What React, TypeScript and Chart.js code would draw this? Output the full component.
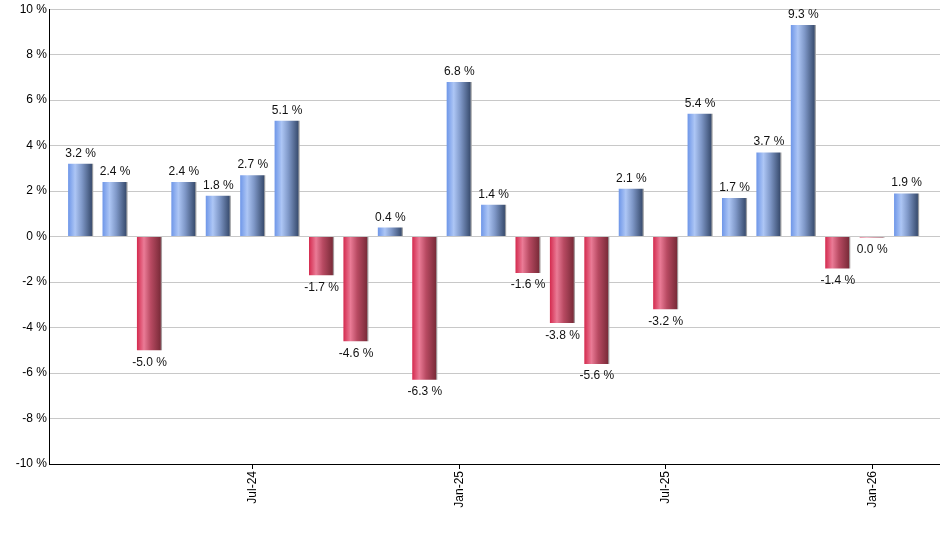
import React, { useEffect, useRef } from "react";
import { Chart, registerables } from "chart.js";

Chart.register(...registerables);

const months: string[] = [
  "Feb-24", "Mar-24", "Apr-24", "May-24", "Jun-24", "Jul-24", "Aug-24", "Sep-24", "Oct-24",
  "Nov-24", "Dec-24", "Jan-25", "Feb-25", "Mar-25", "Apr-25", "May-25", "Jun-25", "Jul-25",
  "Aug-25", "Sep-25", "Oct-25", "Nov-25", "Dec-25", "Jan-26", "Feb-26",
];
const returns: number[] = [
  3.2, 2.4, -5.0, 2.4, 1.8, 2.7, 5.1, -1.7, -4.6, 0.4, -6.3, 6.8, 1.4, -1.6, -3.8, -5.6,
  2.1, -3.2, 5.4, 1.7, 3.7, 9.3, -1.4, -0.04, 1.9,
];
const tickLabels: string[] = ["Jul-24", "Jan-25", "Jul-25", "Jan-26"];
const yTicks: number[] = [-10, -8, -6, -4, -2, 0, 2, 4, 6, 8, 10];

const FONT = "Arial, 'Liberation Sans', sans-serif";
const BAR_RATIO = 0.73;

function fmt(v: number): string {
  const r = Math.round(v * 10) / 10;
  return (r === 0 ? 0 : r).toFixed(1) + " %";
}

const valueLabels = {
  id: "valueLabels",
  afterDatasetsDraw(chart: any) {
    const ctx = chart.ctx;
    const meta = chart.getDatasetMeta(0);
    ctx.save();
    ctx.font = `12px ${FONT}`;
    ctx.fillStyle = "#111";
    ctx.textAlign = "center";
    ctx.textBaseline = "alphabetic";
    meta.data.forEach((el: any, i: number) => {
      const v = returns[i];
      const y0 = chart.scales.y.getPixelForValue(0);
      if (v > 0) {
        ctx.fillText(fmt(v), el.x, Math.min(el.y, y0) - 7);
      } else {
        ctx.fillText(fmt(v), el.x, Math.max(el.y, y0) + 15.5);
      }
    });
    ctx.restore();
  },
};

function barColor(c: any) {
  const chart = c.chart;
  const v = returns[c.dataIndex];
  if (c.dataIndex === undefined || !chart.chartArea) return v < 0 ? "#d02848" : "#6d95e6";
  const xs = chart.scales.x;
  const cx = xs.getPixelForValue(c.dataIndex);
  const w = Math.abs(xs.getPixelForValue(1) - xs.getPixelForValue(0)) * BAR_RATIO;
  const g = chart.ctx.createLinearGradient(cx - w / 2, 0, cx + w / 2, 0);
  if (v > 0) {
    g.addColorStop(0, "#6e96e8");
    g.addColorStop(0.28, "#adc6f5");
    g.addColorStop(0.55, "#7f98c8");
    g.addColorStop(0.93, "#3b4f72");
    g.addColorStop(0.96, "#8a8f98");
    g.addColorStop(1, "#b0b0b0");
  } else {
    g.addColorStop(0, "#d42a4e");
    g.addColorStop(0.28, "#ea7b96");
    g.addColorStop(0.55, "#b84a62");
    g.addColorStop(0.93, "#7c2c3a");
    g.addColorStop(0.96, "#9a8a8e");
    g.addColorStop(1, "#b8b0b0");
  }
  return g;
}

export default function App() {
  const ref = useRef<HTMLCanvasElement | null>(null);

  useEffect(() => {
    document.body.style.margin = "0";
    if (!ref.current) return;
    const chart = new Chart(ref.current, {
      type: "bar",
      data: {
        datasets: [
          {
            data: returns.map((v, i) => ({ x: i, y: v })),
            backgroundColor: barColor as any,
            borderWidth: 0,
            categoryPercentage: 1,
            barPercentage: BAR_RATIO,
          },
        ],
      },
      plugins: [valueLabels],
      options: {
        animation: false,
        responsive: true,
        maintainAspectRatio: false,
        layout: { padding: { top: 9, right: 0, bottom: 0, left: 0 } },
        plugins: { legend: { display: false }, tooltip: { enabled: false } },
        scales: {
          x: {
            type: "linear",
            offset: false,
            min: -0.92,
            max: 24.97,
            afterBuildTicks: (scale: any) => {
              scale.ticks = tickLabels.map((l) => ({ value: months.indexOf(l) }));
            },
            afterFit: (scale: any) => {
              scale.height = 86;
            },
            ticks: {
              autoSkip: false,
              minRotation: 90,
              maxRotation: 90,
              padding: 2,
              color: "#000",
              font: { family: FONT, size: 12 },
              callback: (v: any) => months[Number(v)] ?? "",
            },
            grid: {
              offset: false,
              drawOnChartArea: false,
              drawTicks: true,
              tickLength: 5,
              color: "#000",
            },
            border: { color: "#000", width: 1 },
          },
          y: {
            min: -10,
            max: 10,
            afterBuildTicks: (scale: any) => {
              scale.ticks = yTicks.map((v) => ({ value: v }));
            },
            afterFit: (scale: any) => {
              scale.width = 49;
            },
            ticks: {
              padding: 2,
              color: "#000",
              font: { family: FONT, size: 12 },
              callback: (v: any) => `${v} %`,
            },
            grid: { color: "#c8c8c8", drawTicks: false, lineWidth: 1 },
            border: { color: "#000", width: 1 },
          },
        },
      },
    });
    return () => chart.destroy();
  }, []);

  return (
    <div style={{ width: 940, height: 550, position: "relative" }}>
      <canvas ref={ref} />
    </div>
  );
}
